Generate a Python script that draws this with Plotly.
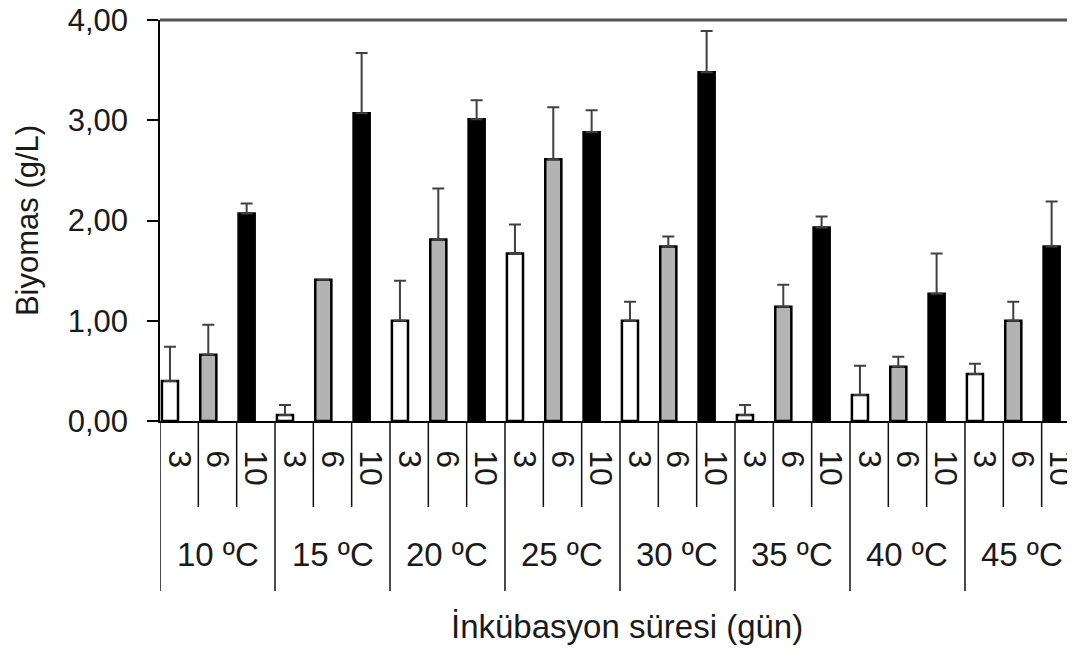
import plotly.graph_objects as go

temps = ["10 ºC", "15 ºC", "20 ºC", "25 ºC", "30 ºC", "35 ºC", "40 ºC", "45 ºC"]
days = ["3", "6", "10"]

bio_d3 = [0.40, 0.06, 1.00, 1.67, 1.00, 0.06, 0.26, 0.47]
bio_d6 = [0.66, 1.41, 1.81, 2.61, 1.74, 1.14, 0.54, 1.00]
bio_d10 = [2.07, 3.07, 3.01, 2.88, 3.48, 1.93, 1.27, 1.74]

err_d3 = [0.34, 0.10, 0.40, 0.29, 0.19, 0.10, 0.29, 0.10]
err_d6 = [0.30, 0.00, 0.51, 0.52, 0.10, 0.22, 0.10, 0.19]
err_d10 = [0.10, 0.60, 0.19, 0.22, 0.41, 0.11, 0.40, 0.45]

FONT = "Liberation Sans, Arial, sans-serif"
n_groups = len(temps)
n_slots = n_groups * len(days)
x_max = 23.87
plot_h = 401.0

series = [
    (bio_d3, err_d3, "#ffffff", 0),
    (bio_d6, err_d6, "#b3b3b3", 1),
    (bio_d10, err_d10, "#000000", 2),
]

fig = go.Figure()
for vals, errs, color, k in series:
    xs = [g * 3 + k for g in range(n_groups)]
    fig.add_trace(go.Bar(
        x=xs, y=vals,
        offset=0.05, width=0.42,
        marker=dict(color=color, line=dict(color="#000000", width=2.5)),
        error_y=dict(type="data", symmetric=False, array=errs,
                     arrayminus=[0] * n_groups, color="#404040",
                     thickness=2, width=6),
        showlegend=False,
    ))

slot_centers = [i + 0.5 for i in range(n_slots)]
slot_labels = [days[i % 3] for i in range(n_slots)]

# category divider lines below the axis
for i in range(n_slots):
    depth = 170 if i % 3 == 0 else 86
    fig.add_shape(type="line", xref="x", yref="paper",
                  x0=i, x1=i, y0=0, y1=-depth / plot_h,
                  line=dict(color="#111111", width=1.5))

# top border of plot area
fig.add_shape(type="line", xref="paper", yref="paper",
              x0=0, x1=1, y0=1, y1=1,
              line=dict(color="#505555", width=3))

fig.update_layout(
    width=1067, height=648,
    margin=dict(l=152, r=0, t=12, b=235, autoexpand=False),
    paper_bgcolor="white", plot_bgcolor="white",
    barmode="overlay",
    separators=",.",
    font=dict(family=FONT, size=32, color="#1a1a1a"),
    xaxis=dict(
        range=[0, x_max], tickmode="array", tickvals=slot_centers,
        ticktext=slot_labels, tickangle=90,
        ticks="outside", ticklen=21, tickcolor="rgba(0,0,0,0)",
        tickfont=dict(size=32), ticklabeloverflow="allow",
        showline=True, linecolor="#000000", linewidth=1.5,
        showgrid=False, zeroline=False, automargin=False,
    ),
    yaxis=dict(
        range=[0, 4], tickmode="linear", tick0=0, dtick=1,
        tickformat=".2f", ticks="outside", ticklen=11, tickwidth=1.5,
        tickcolor="#000000", ticklabelstandoff=13,
        tickfont=dict(size=31), automargin=False,
        ticklabeloverflow="allow",
        showline=True, linecolor="#000000", linewidth=1.5,
        showgrid=False, zeroline=False,
        title=dict(text="Biyomas (g/L)", font=dict(size=31), standoff=20),
    ),
)

for g, t in enumerate(temps):
    fig.add_annotation(
        x=g * 3 + 1.5, y=-0.334, xref="x", yref="paper",
        text=t, showarrow=False, xanchor="center", yanchor="middle",
        font=dict(size=33, color="#1a1a1a"),
    )

fig.add_annotation(
    x=0.51, y=-0.513, xref="paper", yref="paper",
    text="İnkübasyon süresi (gün)", showarrow=False,
    xanchor="center", yanchor="middle",
    font=dict(size=33, color="#1a1a1a"),
)

fig.write_html("out.html")
